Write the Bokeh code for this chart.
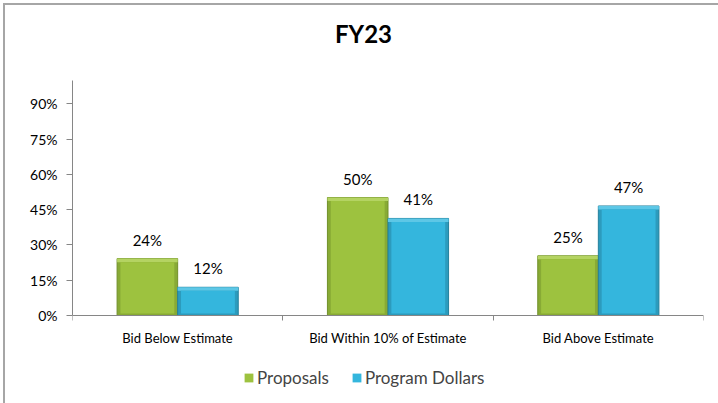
from bokeh.plotting import figure
from bokeh.models import (Range1d, FixedTicker, NumeralTickFormatter, ColumnDataSource,
                          Legend, LegendItem, Label, InlineStyleSheet)
from bokeh.embed import file_html
from bokeh.resources import INLINE
from bokeh.core.properties import value

# ---- data ----
categories = ["Bid Below Estimate", "Bid Within 10% of Estimate", "Bid Above Estimate"]
series_names = ["Proposals", "Program Dollars"]
proposals = [0.242, 0.502, 0.254]
program_dollars = [0.12, 0.413, 0.466]
y_ticks = [0, 0.15, 0.30, 0.45, 0.60, 0.75, 0.90]
title_text = "FY23"

FONT = "Lato"
GREEN = "#9DC23F"
GREEN_LIGHT = "#B4D362"
GREEN_EDGE = "#88AA35"
GREEN_LINE = "#71902A"
BLUE = "#34B6DD"
BLUE_LIGHT = "#5DC7E6"
BLUE_EDGE = "#2C9BBD"
BLUE_LINE = "#23809D"
AXIS = "#868686"

n = len(categories)
centers = [i + 0.5 for i in range(n)]
bw = 0.288
off = bw / 2
bev_x = 0.016   # bevel inset (x units)
bev_y = 0.015   # bevel inset (y units)

def bar_cols(vals, side):
    c = [x + side * off for x in centers]
    return dict(
        l=[x - off for x in c], r=[x + off for x in c], t=list(vals),
        il=[x - off + bev_x for x in c], ir=[x + off - bev_x for x in c],
        it=[v - bev_y for v in vals], ib=[bev_y * 0.6 for _ in vals],
        hb=[v - bev_y for v in vals],
        x=c, lab=[f"{v*100:.0f}%" for v in vals],
    )

src_p = ColumnDataSource(bar_cols(proposals, -1))
src_d = ColumnDataSource(bar_cols(program_dollars, +1))

# frame covers the whole canvas height; axes are pinned/bounded to 0..100%
p = figure(width=718, height=403, output_backend="svg", toolbar_location=None,
           x_range=Range1d(0, n), y_range=Range1d(-0.3745, 1.3404),
           min_border_left=72, min_border_right=15, min_border_top=0, min_border_bottom=0)
p.title.text = ""
p.title.visible = False
p.outline_line_color = None
p.xgrid.grid_line_color = None
p.ygrid.grid_line_color = None
p.background_fill_color = "white"
p.border_fill_color = "white"

p.add_layout(Label(x=1.3835, y=1.198, text=title_text, text_align="center",
                   text_baseline="middle", text_font=FONT, text_font_size="24px",
                   text_font_style="bold", text_color="#000000"))

renderers = []
for src, main, light, edge, line in ((src_p, GREEN, GREEN_LIGHT, GREEN_EDGE, GREEN_LINE),
                                     (src_d, BLUE, BLUE_LIGHT, BLUE_EDGE, BLUE_LINE)):
    p.quad(left="l", right="r", top="t", bottom=0, source=src,
           fill_color=edge, line_color=line, line_width=1)
    p.quad(left="l", right="r", top="t", bottom="hb", source=src,
           fill_color=light, line_color=None)
    r = p.quad(left="il", right="ir", top="it", bottom="ib", source=src,
               fill_color=main, line_color=None)
    renderers.append(r)
    p.text(x="x", y="t", text="lab", source=src, text_align="center", text_baseline="bottom",
           y_offset=-10, text_font=value(FONT), text_font_size="15px", text_color="#000000")

# y axis
ya = p.yaxis[0]
ya.ticker = FixedTicker(ticks=y_ticks)
ya.formatter = NumeralTickFormatter(format="0%")
ya.bounds = (0, 1.0)
ya.axis_line_color = AXIS
ya.major_tick_line_color = AXIS
ya.major_tick_out = 6
ya.major_tick_in = 0
ya.minor_tick_line_color = None
ya.major_label_text_font = FONT
ya.major_label_text_font_size = "14px"
ya.major_label_text_color = "#000000"
ya.major_label_standoff = 9

# x axis
xa = p.xaxis[0]
xa.fixed_location = 0
xa.ticker = FixedTicker(ticks=centers, minor_ticks=list(range(n + 1)))
xa.major_label_overrides = {c: lab for c, lab in zip(centers, categories)}
xa.axis_line_color = AXIS
xa.major_tick_line_color = None
xa.minor_tick_line_color = AXIS
xa.minor_tick_out = 5
xa.minor_tick_in = 0
xa.major_label_text_font = FONT
xa.major_label_text_font_size = "13px"
xa.major_label_text_color = "#000000"
xa.major_label_standoff = 9

legend = Legend(items=[LegendItem(label=series_names[0], renderers=[renderers[0]]),
                       LegendItem(label=series_names[1], renderers=[renderers[1]])],
                orientation="horizontal", location=(171, 15),
                label_text_font=FONT, label_text_font_size="17px",
                glyph_width=11, glyph_height=11, label_standoff=3, spacing=22,
                padding=0, margin=0, border_line_color=None,
                background_fill_alpha=0)
p.add_layout(legend, "center")

p.stylesheets = [InlineStyleSheet(css=""":host::after {content: ''; position: absolute;
  left: 3px; top: 3px; right: -20px; bottom: -20px; border-left: 2px solid #A6A6A6;
  border-top: 2px solid #A6A6A6; pointer-events: none; z-index: 10;}""")]

open("out.html", "w").write(file_html(p, INLINE))
